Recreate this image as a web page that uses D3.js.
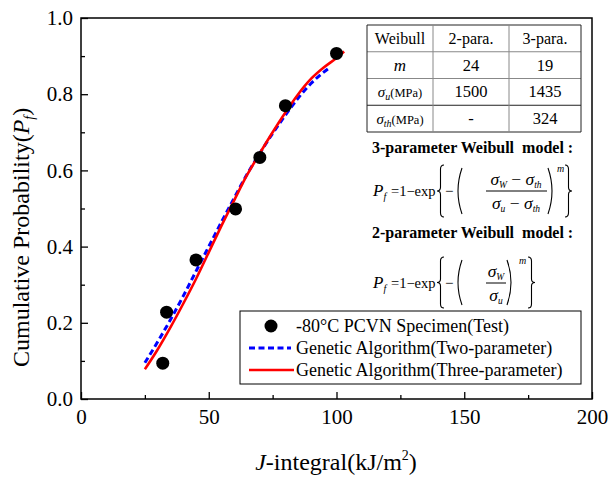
<!DOCTYPE html>
<html>
<head>
<meta charset="utf-8">
<script src="https://cdn.jsdelivr.net/npm/d3@7"></script>
<style>
body { margin: 0; background: #fff; }
text { font-family: "Liberation Serif", "Times New Roman", serif; fill: #000; }
</style>
</head>
<body>
<script>
// test data (-80C PCVN specimens)
var testJ = [32, 33.5, 45, 60.5, 70, 80, 100];
var testP = [0.094, 0.228, 0.365, 0.499, 0.634, 0.770, 0.907];

// genetic algorithm fits
var twoParJ = [25, 30, 35, 40, 45, 50, 55, 60, 65, 70, 75, 80, 85, 90, 95, 97];
var twoParP = [0.095, 0.150, 0.208, 0.270, 0.335, 0.400, 0.465, 0.528, 0.590, 0.645, 0.697, 0.745, 0.790, 0.828, 0.858, 0.868];
var threeParJ = [25, 30, 35, 40, 45, 50, 55, 60, 65, 70, 75, 80, 85, 90, 95, 100, 103];
var threeParP = [0.078, 0.130, 0.188, 0.250, 0.315, 0.385, 0.455, 0.522, 0.588, 0.645, 0.700, 0.752, 0.800, 0.840, 0.870, 0.895, 0.912];

var xTicks = [0, 50, 100, 150, 200];
var xMinor = [25, 75, 125, 175];
var yTicks = [0, 0.2, 0.4, 0.6, 0.8, 1.0];
var yMinor = [0.1, 0.3, 0.5, 0.7, 0.9];

var tableHead = ["Weibull", "2-para.", "3-para."];
var mVals = ["24", "19"];
var suVals = ["1500", "1435"];
var sthVals = ["-", "324"];

var legendLabels = ["-80\u00B0C PCVN Specimen(Test)",
                    "Genetic Algorithm(Two-parameter)",
                    "Genetic Algorithm(Three-parameter)"];

var W = 608, H = 477;
var svg = d3.select("body").append("svg")
    .attr("width", W)
    .attr("height", H);

var x = d3.scaleLinear().domain([0, 200]).range([81, 592]);
var y = d3.scaleLinear().domain([0, 1]).range([399, 18]);

// axes, ticks pointing inward
svg.append("g")
    .attr("transform", "translate(0,399)")
    .call(d3.axisBottom(x).tickValues(xTicks).tickSize(-7).tickSizeOuter(0).tickPadding(10)
        .tickFormat(d3.format("d")))
    .call(function (g) {
        g.select(".domain").remove();
        g.selectAll("line").attr("stroke-width", 1.3);
        g.selectAll("text").attr("font-size", 21).attr("font-family", "Liberation Serif");
    });
svg.append("g")
    .attr("transform", "translate(0,399)")
    .call(d3.axisBottom(x).tickValues(xMinor).tickSize(-4).tickSizeOuter(0).tickFormat(""))
    .call(function (g) {
        g.select(".domain").remove();
        g.selectAll("line").attr("stroke-width", 1.3);
    });

svg.append("g")
    .attr("transform", "translate(81,0)")
    .call(d3.axisLeft(y).tickValues(yTicks).tickSize(-7).tickSizeOuter(0).tickPadding(8)
        .tickFormat(d3.format(".1f")))
    .call(function (g) {
        g.select(".domain").remove();
        g.selectAll("line").attr("stroke-width", 1.3);
        g.selectAll("text").attr("font-size", 21).attr("font-family", "Liberation Serif");
    });
svg.append("g")
    .attr("transform", "translate(81,0)")
    .call(d3.axisLeft(y).tickValues(yMinor).tickSize(-4).tickSizeOuter(0).tickFormat(""))
    .call(function (g) {
        g.select(".domain").remove();
        g.selectAll("line").attr("stroke-width", 1.3);
    });

// frame
svg.append("rect")
    .attr("x", x(0)).attr("y", y(1))
    .attr("width", x(200) - x(0)).attr("height", y(0) - y(1))
    .attr("fill", "none").attr("stroke", "#000").attr("stroke-width", 1.5);

// axis titles
var yt = svg.append("text")
    .attr("transform", "translate(28.5,367) rotate(-90)")
    .attr("font-size", 24);
yt.append("tspan").text("Cumulative Probability(");
yt.append("tspan").attr("font-style", "italic").text("P");
yt.append("tspan").attr("font-style", "italic").attr("font-size", 14).attr("dy", 5).text("f");
yt.append("tspan").attr("dy", -5).text(")");

var xt = svg.append("text")
    .attr("x", 336).attr("y", 470)
    .attr("text-anchor", "middle")
    .attr("font-size", 24);
xt.append("tspan").attr("font-style", "italic").text("J");
xt.append("tspan").text("-integral(kJ/m");
xt.append("tspan").attr("font-size", 14).attr("dy", -10).text("2");
xt.append("tspan").attr("dy", 10).text(")");

// curves
var line = d3.line()
    .x(function (d) { return x(d[0]); })
    .y(function (d) { return y(d[1]); })
    .curve(d3.curveMonotoneX);

svg.append("path")
    .datum(d3.zip(twoParJ, twoParP))
    .attr("d", line)
    .attr("fill", "none")
    .attr("stroke", "#0000ff")
    .attr("stroke-width", 3)
    .attr("stroke-dasharray", "6,3.5");

svg.append("path")
    .datum(d3.zip(threeParJ, threeParP))
    .attr("d", line)
    .attr("fill", "none")
    .attr("stroke", "#ff0000")
    .attr("stroke-width", 2.6);

svg.selectAll("circle.test")
    .data(d3.zip(testJ, testP))
    .enter()
    .append("circle")
    .attr("class", "test")
    .attr("cx", function (d) { return x(d[0]); })
    .attr("cy", function (d) { return y(d[1]); })
    .attr("r", 6.5)
    .attr("fill", "#000");

// parameter table
var tx = [367, 433, 509, 581];
var ty0 = 25, rowH = 26.75;
var tab = svg.append("g");
for (var r = 0; r <= 4; r++) {
    tab.append("line")
        .attr("x1", tx[0]).attr("x2", tx[3])
        .attr("y1", ty0 + r * rowH).attr("y2", ty0 + r * rowH)
        .attr("stroke", (r == 0 || r == 4 || r == 3) ? "#222" : "#888")
        .attr("stroke-width", 1);
}
tx.forEach(function (cx, i) {
    tab.append("line")
        .attr("x1", cx).attr("x2", cx)
        .attr("y1", ty0).attr("y2", ty0 + 4 * rowH)
        .attr("stroke", (i == 0 || i == 3) ? "#222" : "#888")
        .attr("stroke-width", 1);
});
function cellX(c) { return (tx[c] + tx[c + 1]) / 2; }
function cellY(r) { return ty0 + r * rowH + rowH / 2 + 5.5; }
tableHead.forEach(function (t, i) {
    tab.append("text").attr("x", cellX(i)).attr("y", cellY(0))
        .attr("text-anchor", "middle").attr("font-size", 16).text(t);
});
tab.append("text").attr("x", cellX(0)).attr("y", cellY(1))
    .attr("text-anchor", "middle").attr("font-size", 17).attr("font-style", "italic").text("m");
[[suVals, "u"], [sthVals, "th"]].forEach(function (row, k) {
    var t = tab.append("text").attr("x", cellX(0)).attr("y", cellY(k + 2))
        .attr("text-anchor", "middle").attr("font-size", 12.5);
    t.append("tspan").attr("font-style", "italic").attr("font-size", 15).text("\u03C3");
    t.append("tspan").attr("font-style", "italic").attr("font-size", 10).attr("dy", 3).text(row[1]);
    t.append("tspan").attr("dy", -3).text("(MPa)");
});
[mVals, suVals, sthVals].forEach(function (vals, k) {
    vals.forEach(function (v, i) {
        tab.append("text").attr("x", cellX(i + 1)).attr("y", cellY(k + 1))
            .attr("text-anchor", "middle").attr("font-size", 16.5).text(v);
    });
});

// formulas
var fg = svg.append("g");
fg.append("text").attr("x", 372).attr("y", 153).attr("font-size", 16)
    .attr("font-weight", "bold").style("white-space", "pre").text("3-parameter Weibull  model :");
fg.append("text").attr("x", 372).attr("y", 238).attr("font-size", 16)
    .attr("font-weight", "bold").style("white-space", "pre").text("2-parameter Weibull  model :");

function brace(x0, y0, y1, left) {
    var w = 7, s = left ? 1 : -1, xa = left ? x0 : x0 + w;
    var xm = xa + s * w / 2, xe = xa + s * w, ym = (y0 + y1) / 2, h = y1 - y0;
    var d = "M" + xe + "," + y0 +
        " Q" + xm + "," + y0 + " " + xm + "," + (y0 + h * 0.08) +
        " L" + xm + "," + (ym - h * 0.07) +
        " Q" + xm + "," + ym + " " + xa + "," + ym +
        " Q" + xm + "," + ym + " " + xm + "," + (ym + h * 0.07) +
        " L" + xm + "," + (y1 - h * 0.08) +
        " Q" + xm + "," + y1 + " " + xe + "," + y1;
    fg.append("path").attr("d", d).attr("fill", "none").attr("stroke", "#000").attr("stroke-width", 1.1);
}
function paren(x0, y0, y1, left) {
    var w = 6;
    var d = left ?
        "M" + (x0 + w) + "," + y0 + " Q" + (x0 - 2) + "," + ((y0 + y1) / 2) + " " + (x0 + w) + "," + y1 :
        "M" + x0 + "," + y0 + " Q" + (x0 + w + 2) + "," + ((y0 + y1) / 2) + " " + x0 + "," + y1;
    fg.append("path").attr("d", d).attr("fill", "none").attr("stroke", "#000").attr("stroke-width", 1.1);
}
function lead(base) {
    fg.append("text").attr("x", 373).attr("y", base).attr("font-size", 17)
        .attr("font-style", "italic").text("P");
    fg.append("text").attr("x", 383.5).attr("y", base + 4).attr("font-size", 10)
        .attr("font-style", "italic").text("f");
    fg.append("text").attr("x", 391).attr("y", base).attr("font-size", 14.5).text("=1\u2212exp");
    fg.append("text").attr("x", 445).attr("y", base).attr("font-size", 15).text("\u2212");
}
function sigma(cx, base, sub1, sub2) {
    var e = fg.append("text").attr("x", cx).attr("y", base).attr("text-anchor", "middle")
        .attr("font-size", 17.5).style("white-space", "pre");
    e.append("tspan").attr("font-style", "italic").text("\u03C3");
    e.append("tspan").attr("font-style", "italic").attr("font-size", 9.5).attr("dy", 3).text(sub1);
    if (sub2) {
        e.append("tspan").attr("dy", -3).text(" \u2212 ");
        e.append("tspan").attr("font-style", "italic").text("\u03C3");
        e.append("tspan").attr("font-style", "italic").attr("font-size", 9.5).attr("dy", 3).text(sub2);
    }
}

// 3-parameter
lead(196);
brace(437, 165, 217, true);
paren(456, 168, 214, true);
sigma(516, 185, "W", "th");
fg.append("line").attr("x1", 486).attr("x2", 547).attr("y1", 191).attr("y2", 191)
    .attr("stroke", "#000").attr("stroke-width", 1);
sigma(516, 209, "u", "th");
paren(548, 168, 214, false);
fg.append("text").attr("x", 557).attr("y", 172).attr("font-size", 10).attr("font-style", "italic").text("m");
brace(565, 165, 217, false);

// 2-parameter
lead(288);
brace(437, 257, 308, true);
paren(456, 260, 305, true);
sigma(496, 277, "W");
fg.append("line").attr("x1", 486).attr("x2", 506).attr("y1", 283).attr("y2", 283)
    .attr("stroke", "#000").attr("stroke-width", 1);
sigma(496, 301, "u");
paren(507, 260, 305, false);
fg.append("text").attr("x", 519).attr("y", 264).attr("font-size", 10).attr("font-style", "italic").text("m");
brace(528, 257, 308, false);

// legend
var lg = svg.append("g");
lg.append("rect").attr("x", 240).attr("y", 311).attr("width", 341).attr("height", 73)
    .attr("fill", "#fff").attr("stroke", "#000").attr("stroke-width", 1);
var ly = [326, 348, 370];
lg.append("circle").attr("cx", 271).attr("cy", ly[0]).attr("r", 6.5).attr("fill", "#000");
lg.append("line").attr("x1", 249).attr("x2", 291).attr("y1", ly[1]).attr("y2", ly[1])
    .attr("stroke", "#0000ff").attr("stroke-width", 3).attr("stroke-dasharray", "6,3.5");
lg.append("line").attr("x1", 249).attr("x2", 294).attr("y1", ly[2]).attr("y2", ly[2])
    .attr("stroke", "#ff0000").attr("stroke-width", 2.6);
legendLabels.forEach(function (t, i) {
    lg.append("text").attr("x", 296).attr("y", ly[i] + 6).attr("font-size", 18).text(t);
});
</script>
</body>
</html>
